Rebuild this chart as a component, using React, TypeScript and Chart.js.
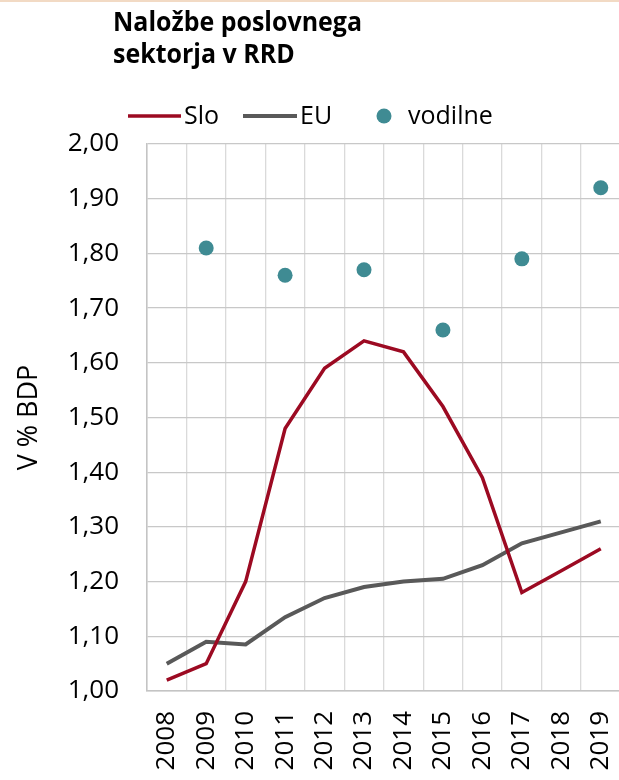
import React, { useEffect, useRef } from "react";
import { Chart, registerables } from "chart.js";

Chart.register(...registerables);

const years = ["2008", "2009", "2010", "2011", "2012", "2013", "2014", "2015", "2016", "2017", "2018", "2019"];
const slo = [1.02, 1.05, 1.2, 1.48, 1.59, 1.64, 1.62, 1.52, 1.39, 1.18, 1.22, 1.26];
const eu = [1.05, 1.09, 1.085, 1.135, 1.17, 1.19, 1.2, 1.205, 1.23, 1.27, 1.29, 1.31];
const vodilne = [null, 1.81, null, 1.76, null, 1.77, null, 1.66, null, 1.79, null, 1.92];
const yMin = 1.0;
const yMax = 2.0;
const yStep = 0.1;
const titleLines = ["Naložbe poslovnega", "sektorja v RRD"];
const seriesNames = ["Slo", "EU", "vodilne"];
const yTitle = "V % BDP";

const RED = "#9c0a22";
const GREY = "#595959";
const TEAL = "#3f8b93";
const BASE_FONT = "'Open Sans', 'Noto Sans', sans-serif";
const TITLE_FONT = "'Open Sans', 'Noto Sans', sans-serif";

const decorPlugin = {
  id: "decor",
  afterDraw(chart: any) {
    const ctx = chart.ctx;
    ctx.save();
    // top accent line
    ctx.fillStyle = "#f2dac4";
    ctx.fillRect(0, 0, chart.width, 2);
    // title (horizontally condensed)
    ctx.fillStyle = "#000";
    ctx.font = `bold 26px ${TITLE_FONT}`;
    ctx.textBaseline = "alphabetic";
    ctx.textAlign = "left";
    const w0 = ctx.measureText(titleLines[0]).width;
    const sx = Math.min(1, 249 / w0);
    ctx.save();
    ctx.translate(113, 0);
    ctx.scale(sx, 1);
    ctx.fillText(titleLines[0], 0, 31);
    ctx.fillText(titleLines[1], 0, 63);
    ctx.restore();
    // legend
    const ly = 116;
    ctx.font = `25px ${BASE_FONT}`;
    ctx.lineCap = "butt";
    ctx.strokeStyle = RED;
    ctx.lineWidth = 3.5;
    ctx.beginPath();
    ctx.moveTo(128, ly);
    ctx.lineTo(181, ly);
    ctx.stroke();
    ctx.fillStyle = "#000";
    ctx.fillText(seriesNames[0], 184, 124);
    ctx.strokeStyle = GREY;
    ctx.lineWidth = 4;
    ctx.beginPath();
    ctx.moveTo(243, ly);
    ctx.lineTo(297, ly);
    ctx.stroke();
    ctx.fillText(seriesNames[1], 300, 124);
    ctx.fillStyle = TEAL;
    ctx.beginPath();
    ctx.arc(384, ly, 7.5, 0, Math.PI * 2);
    ctx.fill();
    ctx.fillStyle = "#000";
    ctx.fillText(seriesNames[2], 408, 124);
    ctx.restore();
  },
};

export default function App() {
  const ref = useRef<HTMLCanvasElement | null>(null);

  useEffect(() => {
    if (!ref.current) return;
    const chart = new Chart(ref.current, {
      type: "line",
      data: {
        labels: years,
        datasets: [
          {
            label: seriesNames[0],
            data: slo,
            borderColor: RED,
            backgroundColor: RED,
            borderWidth: 3.5,
            pointRadius: 0,
            tension: 0,
            order: 2,
          },
          {
            label: seriesNames[1],
            data: eu,
            borderColor: GREY,
            backgroundColor: GREY,
            borderWidth: 4,
            pointRadius: 0,
            tension: 0,
            order: 3,
          },
          {
            label: seriesNames[2],
            data: vodilne as any,
            showLine: false,
            borderColor: TEAL,
            backgroundColor: TEAL,
            pointRadius: 7.5,
            pointBorderWidth: 0,
            order: 1,
          },
        ],
      },
      options: {
        responsive: false,
        animation: false,
        layout: { padding: { top: 144, left: 0, right: 0, bottom: 0 } },
        plugins: {
          legend: { display: false },
          title: { display: false },
          tooltip: { enabled: false },
        },
        scales: {
          x: {
            offset: true,
            afterFit: (s: any) => {
              s.height = 89;
              s.paddingLeft = 0;
              s.paddingRight = 0;
            },
            grid: { offset: true, color: "#dadada", lineWidth: 1.3, drawTicks: false },
            border: { display: true, color: "#c4c4c4", width: 1.5 },
            ticks: {
              autoSkip: false,
              maxRotation: 90,
              minRotation: 90,
              padding: 20,
              color: "#000",
              font: { family: BASE_FONT, size: 26 },
            },
          },
          y: {
            min: yMin,
            max: yMax,
            afterFit: (s: any) => {
              s.width = 147;
              s.paddingTop = 0;
              s.paddingBottom = 0;
            },
            grid: { color: "#c8c8c8", lineWidth: 1.3, drawTicks: false },
            border: { display: true, color: "#c4c4c4", width: 1.5 },
            ticks: {
              stepSize: yStep,
              padding: 28,
              color: "#000",
              font: { family: BASE_FONT, size: 26 },
              callback: (v: any) => Number(v).toFixed(2).replace(".", ","),
            },
            title: {
              display: true,
              text: yTitle,
              color: "#000",
              padding: { top: 13, bottom: 0 },
              font: { family: BASE_FONT, size: 27 },
            },
          },
        },
      },
      plugins: [decorPlugin],
    });
    return () => chart.destroy();
  }, []);

  return (
    <div
      style={{
        position: "fixed",
        left: 0,
        top: 0,
        width: 619,
        height: 780,
        overflow: "hidden",
        background: "#fff",
      }}
    >
      <canvas ref={ref} width={628} height={780} style={{ display: "block" }} />
    </div>
  );
}
